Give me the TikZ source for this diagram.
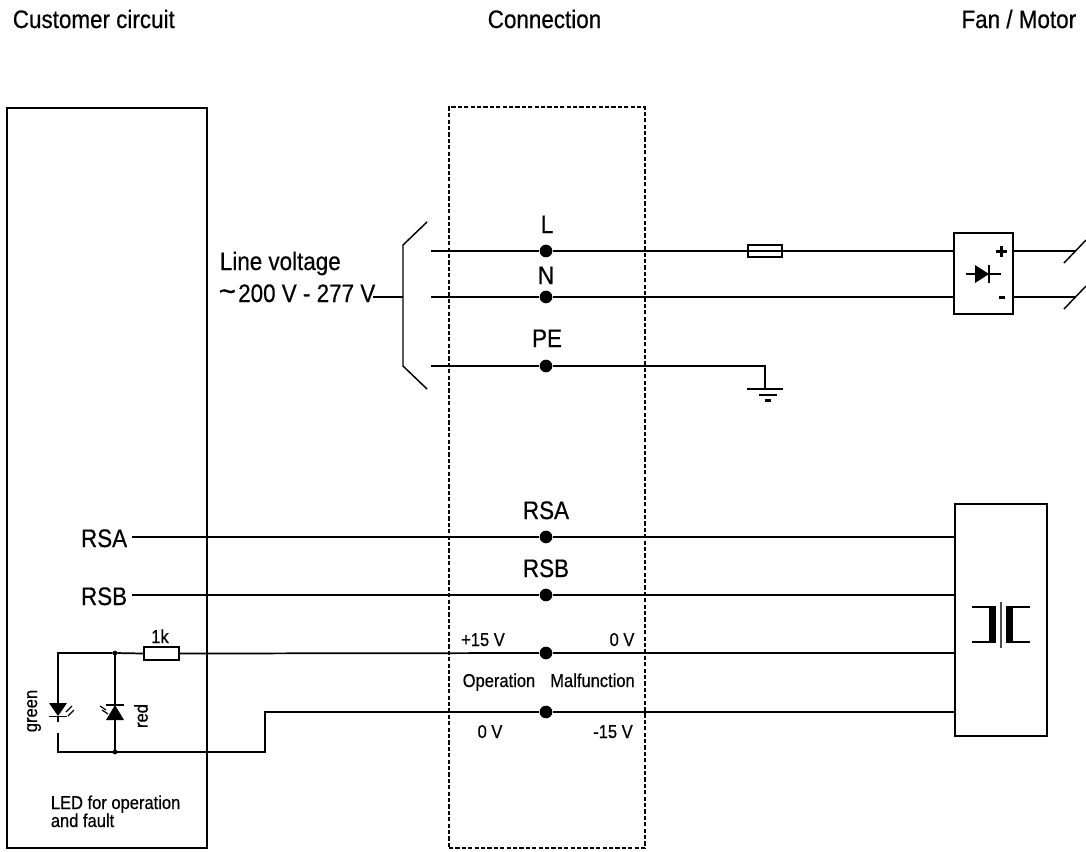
\documentclass[tikz,border=0pt]{standalone}
\usepackage{fontspec}
\setmainfont[FakeStretch=0.885,FakeBold=0.5]{Liberation Sans}
\begin{document}
\begin{tikzpicture}[x=0.75pt,y=-0.75pt,line width=1.3pt,
  box/.style={draw,rectangle,inner sep=0pt,fill=none},
  dot/.style={circle,fill=black,inner sep=0pt,minimum size=9.5pt},
  tiny/.style={circle,draw,line width=.5pt,fill=black,inner sep=0pt,minimum size=3pt},
  big/.style={font=\fontsize{19}{19}\selectfont,inner sep=0pt,anchor=base},
  small/.style={font=\fontsize{14}{14}\selectfont,inner sep=0pt,anchor=base},
  thin line/.style={line width=1.1pt},
  arr/.style={line width=.9pt}]
\useasboundingbox (0,0) rectangle (1086,851);
% titles
\node[big,anchor=base west] (t1) at (12,28) {Customer circuit};
\node[big] (t2) at (544.5,28) {Connection};
\node[big,anchor=base east] (t3) at (1077,28) {Fan / Motor};
% boxes
\node[box,minimum width=150pt,minimum height=555pt] (cust) at (107,478) {};
\node[box,line width=1.1pt,dash pattern=on 3.2pt off 1.6pt,minimum width=147pt,minimum height=555.75pt] (conn) at (547,477.5) {};
\node[box,minimum width=44.25pt,minimum height=60.75pt] (rect) at (983.5,273.5) {};
\node[box,minimum width=69pt,minimum height=174pt] (bus) at (1001,620) {};
\node[box,minimum width=25.5pt,minimum height=9pt] (fuse) at (765,251) {};
\node[box,minimum width=26.25pt,minimum height=9.75pt] (res) at (161.5,653.5) {};
% terminals
\node[dot] (L) at (546,251) {};
\node[dot] (N) at (546,297) {};
\node[dot] (PE) at (546,366) {};
\node[dot] (RSA) at (546,537) {};
\node[dot] (RSB) at (546,595) {};
\node[dot] (P15) at (546,653) {};
\node[dot] (M15) at (546,712) {};
\node[tiny] (j1) at (115,653) {};
\node[tiny] (j2) at (115,752) {};
% labels
\node[big] (lL) at (547,233) {L};
\node[big] (lN) at (546,284) {N};
\node[big] (lPE) at (547,347) {PE};
\node[big] (lRSA) at (546,519) {RSA};
\node[big] (lRSB) at (546,577) {RSB};
\node[big,anchor=base east] (rsaL) at (128,547) {RSA};
\node[big,anchor=base east] (rsbL) at (128,605) {RSB};
\node[big,anchor=base west] (lv1) at (219,270) {Line voltage};
\node[big,anchor=base west] (lv2) at (218,302) {\makebox[14.5pt][l]{\raisebox{.5pt}{\scalebox{1.3}[1.2]{\textasciitilde}}}200 V - 277 V};
\node[small] (k1) at (160,643) {1k};
\node[small] (p) at (483,646) {+15 V};
\node[small] (z) at (622,646) {0 V};
\node[small] (op) at (499,687) {Operation};
\node[small] (mal) at (592.5,687) {Malfunction};
\node[small] (z2) at (490,738) {0 V};
\node[small] (m) at (613,738) {-15 V};
\node[small,rotate=90,anchor=center] (gr) at (34,711) {green};
\node[small,rotate=90,anchor=center] (rd) at (141,716) {red};
\node[small,anchor=base west] (led1) at (50,809) {LED for operation};
\node[small,anchor=base west] (led2) at (50,827) {and fault};
% mains
\coordinate (lv) at (373,297);
\coordinate (brT) at (427,222);
\coordinate (br1) at (403,245);
\coordinate (br2) at (403,366);
\coordinate (brB) at (427,389);
\coordinate (brM) at (403,297);
\draw[thin line] (brT) -- (br1) -- (br2) -- (brB);
\draw[thin line] (lv) -- (brM);
\coordinate (aL) at (431,251);
\coordinate (aN) at (431,297);
\coordinate (aP) at (431,366);
\draw (aL) -- (L) -- (fuse.west);
\draw (fuse.east) -- (rect.west |- fuse.east);
\draw[thin line] (fuse.west) -- (fuse.east);
\draw (aN) -- (N) -- (N -| rect.west);
\coordinate (gnd) at (765,389);
\draw (aP) -- (PE) -- (PE -| gnd) -- (gnd);
\draw (747,389) -- (783,389);
\draw (759,395) -- (777,395);
\draw[line width=1.7pt] (765,400.5) -- (771,400.5);
% motor outputs
\coordinate (o1) at (1075,251);
\coordinate (o2) at (1075,297);
\draw (o1 -| rect.east) -- (o1);
\draw (o2 -| rect.east) -- (o2);
\draw[thin line] (1064,263) -- (1086,240);
\draw[thin line] (1064,309) -- (1086,286);
% rectifier symbol
\draw[thin line] (966,274) -- (1001,274);
\fill (975,265) -- (989,274) -- (975,283) -- cycle;
\draw[thin line] (989,265) -- (989,283);
\draw[line width=1.7pt] (996,251.5) -- (1007,251.5) (1001.5,246) -- (1001.5,257);
\draw[line width=1.7pt] (999,297.5) -- (1005,297.5);
% bus
\coordinate (rsaS) at (132,537);
\coordinate (rsbS) at (132,595);
\draw (rsaS) -- (RSA) -- (RSA -| bus.west);
\draw (rsbS) -- (RSB) -- (RSB -| bus.west);
\draw (res.east) -- (P15) -- (P15 -| bus.west);
\draw (res.west) -- (j1) -- (58,653) -- (58,703);
\draw (58,717) -- (58,722) (58,733) -- (58,752) -- (j2) -- (265,752) -- (265,712) -- (M15) -- (M15 -| bus.west);
\draw (j1) -- (j2);
% coupler symbol
\draw[line width=1.1pt] (972,607) -- (996,607) (972,642) -- (996,642);
\draw[line width=1.1pt] (1006,607) -- (1030,607) (1006,642) -- (1030,642);
\fill (989,607) rectangle (996,642);
\fill (1006,607) rectangle (1013,642);
\draw[line width=1.2pt,gray!60!black] (1001,602) -- (1001,648);
% green LED
\fill (49,703) -- (67,703) -- (58,716) -- cycle;
\draw[thin line] (49,716.5) -- (67,716.5);
\draw[arr] (66,712) -- (72,706) (68,716) -- (74,710);
% red LED
\fill (106,720) -- (124,720) -- (115,705) -- cycle;
\draw[thin line] (106,705) -- (124,705);
\draw[arr] (106,710) -- (100,706) (108,714) -- (102,710);
\end{tikzpicture}
\end{document}
